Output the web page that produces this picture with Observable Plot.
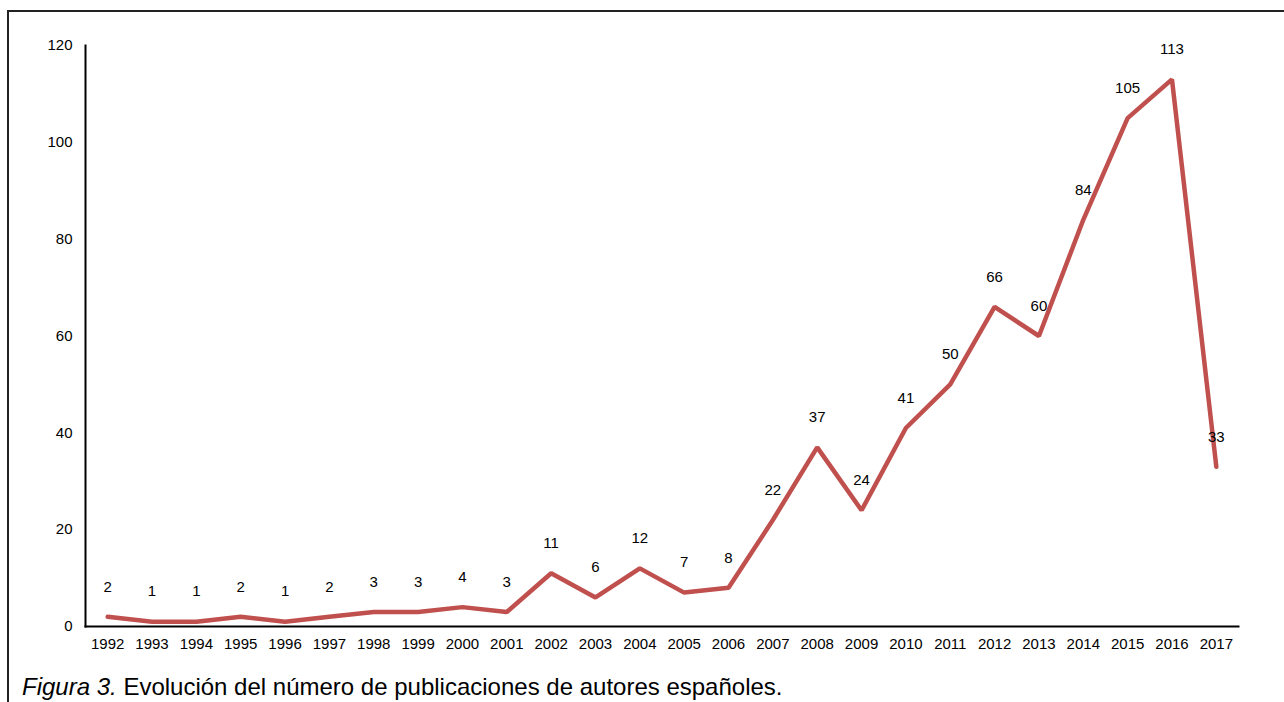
<!DOCTYPE html>
<html>
<head>
<meta charset="utf-8">
<script src="https://cdn.jsdelivr.net/npm/d3@7"></script>
<script src="https://cdn.jsdelivr.net/npm/@observablehq/plot@0.6"></script>
<style>
  html, body { margin: 0; padding: 0; background: #fff; width: 1284px; height: 702px; overflow: hidden; }
  #frame { position: absolute; left: 7px; top: 10px; width: 1400px; height: 800px; border-left: 2px solid #222; border-top: 2px solid #222; }
  #chart { position: absolute; left: 0; top: 0; }
  #caption { position: absolute; left: 22px; top: 673px; font-family: "Liberation Sans", Arial, sans-serif; font-size: 24px; line-height: normal; color: #000; white-space: nowrap; }
</style>
</head>
<body>
<div id="frame"></div>
<div id="chart"></div>
<div id="caption"><i>Figura 3.</i> Evolución del número de publicaciones de autores españoles.</div>
<script>
const years = ["1992","1993","1994","1995","1996","1997","1998","1999","2000","2001","2002","2003","2004","2005","2006","2007","2008","2009","2010","2011","2012","2013","2014","2015","2016","2017"];
const counts = [2,1,1,2,1,2,3,3,4,3,11,6,12,7,8,22,37,24,41,50,66,60,84,105,113,33];
const yTicks = [0,20,40,60,80,100,120];

const data = years.map((y, i) => ({year: y, value: counts[i]}));

const plot = Plot.plot({
  width: 1284,
  height: 665,
  marginLeft: 85,
  marginRight: 46,
  marginTop: 45,
  marginBottom: 39,
  style: { fontFamily: "'Liberation Sans', Arial, sans-serif", fontSize: "15px", color: "#000", background: "transparent" },
  x: { type: "point", domain: years, padding: 0.5, round: false, label: null },
  y: { domain: [0, 120], ticks: yTicks, label: null },
  marks: [
    Plot.axisX({ tickSize: 0, tickPadding: 12, label: null, fontSize: 15 }),
    Plot.axisY({ ticks: yTicks, tickSize: 0, tickPadding: 13, label: null, fontSize: 15 }),
    Plot.frame({ anchor: "left", stroke: "#000", strokeWidth: 2 }),
    Plot.frame({ anchor: "bottom", stroke: "#000", strokeWidth: 2 }),
    Plot.line(data, { x: "year", y: "value", stroke: "#C0504D", strokeWidth: 4.5, strokeLinejoin: "miter" }),
    Plot.text(data, { x: "year", y: "value", text: d => String(d.value), dy: -30, fontSize: 15, fill: "#000" })
  ]
});
document.getElementById("chart").appendChild(plot);
</script>
</body>
</html>
